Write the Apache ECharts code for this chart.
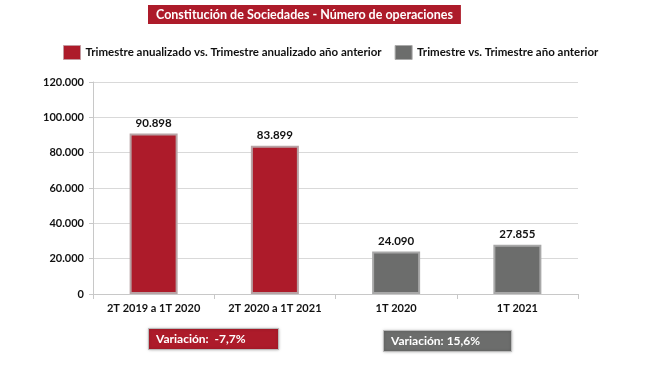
<!DOCTYPE html>
<html><head><meta charset="utf-8">
<script src="https://cdn.jsdelivr.net/npm/echarts@6/dist/echarts.min.js"></script>
<style>html,body{margin:0;padding:0;background:#fff}#c{width:666px;height:382px}</style>
</head><body><div id="c"></div>
<script>
const categories = ['2T 2019 a 1T 2020', '2T 2020 a 1T 2021', '1T 2020', '1T 2021'];
const annualized = [90898, 83899, null, null];
const quarterly = [null, null, 24090, 27855];
const seriesNames = ['Trimestre anualizado vs. Trimestre anualizado año anterior', 'Trimestre vs. Trimestre año anterior'];
const titleText = 'Constitución de Sociedades - Número de operaciones';
const variations = ['Variación:  -7,7%', 'Variación: 15,6%'];
const yTicks = [0, 20000, 40000, 60000, 80000, 100000, 120000];

const RED = '#AD1B2A', GREY = '#6C6D6C';
const FONT = 'Lato';
function fmt(v){ return String(v).replace(/\B(?=(\d{3})+(?!\d))/g, '.'); }

const chart = echarts.init(document.getElementById('c'), null, {renderer:'canvas'});
chart.setOption({
  animation:false,
  textStyle:{fontFamily:FONT},
  title:[
    {text:titleText, left:148, top:5, backgroundColor:RED, padding:[3,8,3,8],
     textStyle:{color:'#fff', fontSize:12.5, fontWeight:'bold', fontFamily:FONT}},
    {text:variations[0], left:148, top:328, backgroundColor:RED, padding:[5,33,5,8],
     borderColor:'#bbb', borderWidth:1, shadowColor:'rgba(0,0,0,0.25)', shadowBlur:3,
     textStyle:{color:'#fff', fontSize:12, fontWeight:'bold', fontFamily:FONT}},
    {text:variations[1], left:383, top:330, backgroundColor:GREY, padding:[5,32,5,8],
     borderColor:'#bbb', borderWidth:1, shadowColor:'rgba(0,0,0,0.25)', shadowBlur:3,
     textStyle:{color:'#fff', fontSize:12, fontWeight:'bold', fontFamily:FONT}}
  ],
  legend:{
    top:40, left:58, itemWidth:17, itemHeight:14, itemGap:13,
    icon:'rect',
    textStyle:{fontSize:11.5, fontWeight:'bold', color:'#111', fontFamily:FONT},
    data:[
      {name:seriesNames[0], itemStyle:{color:RED, borderColor:'#c49aa0', borderWidth:1}},
      {name:seriesNames[1], itemStyle:{color:GREY, borderColor:'#aaa', borderWidth:1}}
    ]
  },
  grid:{left:93, right:88, top:82, bottom:88},
  xAxis:{
    type:'category', data:categories,
    axisLine:{lineStyle:{color:'#c8c8c8'}},
    axisTick:{show:true, lineStyle:{color:'#c8c8c8'}},
    axisLabel:{interval:0, color:'#111', fontSize:11, fontWeight:'bold', margin:9, fontFamily:FONT}
  },
  yAxis:{
    type:'value', min:0, max:120000, interval:20000,
    axisLine:{show:true, lineStyle:{color:'#c8c8c8'}},
    axisTick:{show:true, length:4, lineStyle:{color:'#c8c8c8'}},
    splitLine:{lineStyle:{color:'#d9d9d9'}},
    axisLabel:{color:'#111', fontSize:11, fontWeight:'bold', margin:9, fontFamily:FONT,
      formatter:function(v){ return yTicks.indexOf(v)>=0 ? fmt(v) : ''; }}
  },
  series:[
    {name:seriesNames[0], type:'bar', stack:'s', data:annualized, barWidth:48,
     itemStyle:{color:RED, borderColor:'#b8a3a5', borderWidth:2},
     label:{show:true, position:'top', distance:4, color:'#111', fontSize:11.5, fontWeight:'bold', fontFamily:FONT,
       formatter:p=>p.value==null?'':fmt(p.value)}},
    {name:seriesNames[1], type:'bar', stack:'s', data:quarterly, barWidth:48,
     itemStyle:{color:GREY, borderColor:'#a8a8a8', borderWidth:2},
     label:{show:true, position:'top', distance:4, color:'#111', fontSize:11.5, fontWeight:'bold', fontFamily:FONT,
       formatter:p=>p.value==null?'':fmt(p.value)}}
  ]
});
</script>
</body></html>
